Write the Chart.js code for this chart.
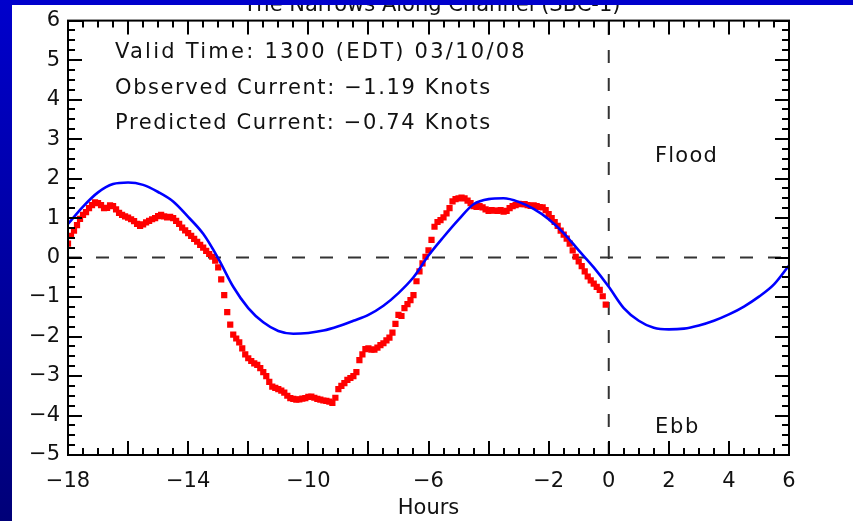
<!DOCTYPE html>
<html><head><meta charset="utf-8">
<script src="https://cdn.jsdelivr.net/npm/chart.js@4"></script>
<style>html,body{margin:0;padding:0;background:#fff;overflow:hidden}canvas{display:block}</style>
</head><body>
<canvas id="c" width="853" height="521"></canvas>
<script>
const titleText = "The Narrows Along Channel (SBC-1)";
const infoLines = ["Valid Time: 1300 (EDT) 03/10/08", "Observed Current: \u22121.19 Knots", "Predicted Current: \u22120.74 Knots"];
const regionLabels = ["Flood", "Ebb"];
const xAxisTitle = "Hours";
const xTickLabels = [-18, -14, -10, -6, -2, 0, 2, 4, 6];
const yTickLabels = [-5, -4, -3, -2, -1, 0, 1, 2, 3, 4, 5, 6];

const predHours = [-18,-17.5,-17,-16.5,-16,-15.5,-15,-14.5,-14,-13.5,-13,-12.5,-12,-11.5,-11,-10.5,-10,-9.5,-9,-8.5,-8,-7.5,-7,-6.5,-6,-5.5,-5,-4.5,-4,-3.5,-3,-2.5,-2,-1.5,-1,-0.5,0,0.5,1,1.5,2,2.5,3,3.5,4,4.5,5,5.5,6];
const predValues = [0.85,1.29,1.65,1.86,1.90,1.84,1.66,1.42,1.03,0.60,
  -0.02,-0.74,-1.28,-1.64,-1.86,-1.93,-1.91,-1.85,-1.74,-1.60,
  -1.45,-1.22,-0.90,-0.50,0.05,0.52,0.96,1.35,1.48,1.50,
  1.41,1.23,0.97,0.62,0.18,-0.25,-0.74,-1.28,-1.60,-1.78,
  -1.82,-1.80,-1.72,-1.60,-1.44,-1.24,-0.99,-0.68,-0.20];

const obsHours = [-18.0,-17.9,-17.8,-17.7,-17.6,-17.5,-17.4,-17.3,-17.2,-17.1,
  -17.0,-16.9,-16.8,-16.7,-16.6,-16.5,-16.4,-16.3,-16.2,-16.1,
  -16.0,-15.9,-15.8,-15.7,-15.6,-15.5,-15.4,-15.3,-15.2,-15.1,
  -15.0,-14.9,-14.8,-14.7,-14.6,-14.5,-14.4,-14.3,-14.2,-14.1,
  -14.0,-13.9,-13.8,-13.7,-13.6,-13.5,-13.4,-13.3,-13.2,-13.1,
  -13.0,-12.9,-12.8,-12.7,-12.6,-12.5,-12.4,-12.3,-12.2,-12.1,
  -12.0,-11.9,-11.8,-11.7,-11.6,-11.5,-11.4,-11.3,-11.2,-11.1,
  -11.0,-10.9,-10.8,-10.7,-10.6,-10.5,-10.4,-10.3,-10.2,-10.1,
  -10.0,-9.9,-9.8,-9.7,-9.6,-9.5,-9.4,-9.3,-9.2,-9.1,
  -9.0,-8.9,-8.8,-8.7,-8.6,-8.5,-8.4,-8.3,-8.2,-8.1,
  -8.0,-7.9,-7.8,-7.7,-7.6,-7.5,-7.4,-7.3,-7.2,-7.1,
  -7.0,-6.9,-6.8,-6.7,-6.6,-6.5,-6.4,-6.3,-6.2,-6.1,
  -6.0,-5.9,-5.8,-5.7,-5.6,-5.5,-5.4,-5.3,-5.2,-5.1,
  -5.0,-4.9,-4.8,-4.7,-4.6,-4.5,-4.4,-4.3,-4.2,-4.1,
  -4.0,-3.9,-3.8,-3.7,-3.6,-3.5,-3.4,-3.3,-3.2,-3.1,
  -3.0,-2.9,-2.8,-2.7,-2.6,-2.5,-2.4,-2.3,-2.2,-2.1,
  -2.0,-1.9,-1.8,-1.7,-1.6,-1.5,-1.4,-1.3,-1.2,-1.1,
  -1.0,-0.9,-0.8,-0.7,-0.6,-0.5,-0.4,-0.3,-0.2,-0.1];
const obsValues = [0.35,0.55,0.68,0.82,0.98,1.08,1.15,1.25,1.33,1.40,
  1.38,1.33,1.25,1.26,1.32,1.30,1.22,1.13,1.08,1.04,
  1.01,0.97,0.92,0.85,0.80,0.84,0.89,0.93,0.97,1.00,
  1.05,1.08,1.04,1.02,1.03,1.00,0.93,0.85,0.76,0.69,
  0.62,0.55,0.47,0.40,0.32,0.25,0.17,0.09,0.02,-0.08,
  -0.25,-0.55,-0.95,-1.38,-1.70,-1.95,-2.05,-2.15,-2.30,-2.45,
  -2.55,-2.62,-2.68,-2.72,-2.80,-2.90,-3.00,-3.15,-3.27,-3.30,
  -3.33,-3.37,-3.42,-3.50,-3.56,-3.58,-3.60,-3.59,-3.57,-3.56,
  -3.53,-3.52,-3.55,-3.58,-3.60,-3.62,-3.63,-3.65,-3.68,-3.55,
  -3.33,-3.25,-3.18,-3.10,-3.05,-3.00,-2.90,-2.60,-2.45,-2.32,
  -2.30,-2.33,-2.33,-2.28,-2.22,-2.17,-2.10,-2.03,-1.90,-1.68,
  -1.45,-1.48,-1.28,-1.18,-1.08,-0.95,-0.60,-0.35,-0.15,0.02,
  0.18,0.45,0.78,0.90,0.95,1.02,1.12,1.25,1.42,1.48,
  1.50,1.52,1.50,1.44,1.38,1.30,1.28,1.30,1.27,1.22,
  1.18,1.20,1.19,1.18,1.20,1.16,1.18,1.25,1.30,1.33,
  1.36,1.35,1.35,1.33,1.31,1.32,1.30,1.28,1.27,1.20,
  1.10,1.00,0.90,0.80,0.68,0.58,0.48,0.35,0.18,0.02,
  -0.10,-0.22,-0.35,-0.48,-0.58,-0.66,-0.74,-0.82,-0.98,-1.19];

const zeroLineHours = [-18, 6];
const zeroLineValues = [0, 0];
const nowLineHours = [0, 0];
const nowLineValues = [-5, 6];

const FONT = '"DejaVu Sans", sans-serif';
const fmt = v => (v < 0 ? '\u2212' + Math.abs(v) : String(v));
const pts = (xs, ys) => xs.map((x, i) => ({x: x, y: ys[i]}));

function spacedText(ctx, text, x, y, w) {
  ctx.letterSpacing = '0px';
  const m = ctx.measureText(text).width;
  const n = [...text].length;
  if ('letterSpacing' in ctx) {
    ctx.letterSpacing = ((w - m) / n).toFixed(2) + 'px';
    ctx.fillText(text, x, y);
    ctx.letterSpacing = '0px';
  } else {
    ctx.save(); ctx.translate(x, y); ctx.scale(w / m, 1); ctx.fillText(text, 0, 0); ctx.restore();
  }
}

const decor = {
  id: 'decor',
  beforeDraw(chart) {
    const ctx = chart.ctx;
    ctx.save();
    ctx.fillStyle = '#fff';
    ctx.fillRect(0, 0, chart.width, chart.height);
    ctx.font = '21px ' + FONT;
    ctx.fillStyle = '#111';
    ctx.textAlign = 'center';
    ctx.textBaseline = 'alphabetic';
    ctx.fillText(titleText, 432, 11);
    ctx.restore();
  },
  afterDraw(chart) {
    const ctx = chart.ctx;
    const {left, right, top, bottom} = chart.chartArea;
    const xs = chart.scales.x, ys = chart.scales.y;
    ctx.save();
    ctx.strokeStyle = '#000';
    ctx.lineWidth = 2;
    ctx.beginPath();
    for (let v = xs.min; v <= xs.max + 1e-9; v += 0.5) {
      const p = Math.round(xs.getPixelForValue(v));
      const L = Math.abs(v / 2 - Math.round(v / 2)) < 1e-6 ? 14 : 7;
      ctx.moveTo(p, bottom); ctx.lineTo(p, bottom - L);
      ctx.moveTo(p, top); ctx.lineTo(p, top + L);
    }
    for (let v = ys.min; v <= ys.max + 1e-9; v += 0.25) {
      const p = Math.round(ys.getPixelForValue(v));
      const L = Math.abs(v - Math.round(v)) < 1e-6 ? 14 : 7;
      ctx.moveTo(left, p); ctx.lineTo(left + L, p);
      ctx.moveTo(right, p); ctx.lineTo(right - L, p);
    }
    ctx.stroke();
    ctx.strokeRect(left, top, right - left, bottom - top);

    ctx.fillStyle = '#111';
    ctx.font = '21px ' + FONT;
    ctx.textAlign = 'left';
    ctx.textBaseline = 'middle';
    spacedText(ctx, infoLines[0], 115, 53, 412);
    spacedText(ctx, infoLines[1], 115, 89, 377);
    spacedText(ctx, infoLines[2], 115, 124, 377);
    spacedText(ctx, regionLabels[0], 655, 157, 63);
    spacedText(ctx, regionLabels[1], 655, 428, 45);

    // outer blue frame
    ctx.fillStyle = '#0000cc';
    ctx.fillRect(0, 0, chart.width, 5);
    const g = ctx.createLinearGradient(0, 0, 0, chart.height);
    g.addColorStop(0, '#0000cc');
    g.addColorStop(1, '#000078');
    ctx.fillStyle = g;
    ctx.fillRect(0, 0, 12, chart.height);
    ctx.restore();
  }
};

const tickFont = {family: FONT, size: 21};

new Chart(document.getElementById('c'), {
  type: 'scatter',
  data: {
    datasets: [
      {label: 'Predicted', data: pts(predHours, predValues), showLine: true, borderColor: '#0000ff', backgroundColor: '#0000ff', borderWidth: 2.6, pointRadius: 0, cubicInterpolationMode: 'monotone', order: 0},
      {label: 'Observed', data: pts(obsHours, obsValues), showLine: false, pointStyle: 'rect', pointRadius: 4.4, backgroundColor: '#ff0000', borderColor: '#ff0000', borderWidth: 0, order: 1},
      {label: 'zero', data: pts(zeroLineHours, zeroLineValues), showLine: true, borderColor: '#333', borderWidth: 2, borderDash: [13, 15], pointRadius: 0, order: 2},
      {label: 'now', data: pts(nowLineHours, nowLineValues), showLine: true, borderColor: '#333', borderWidth: 2, borderDash: [13, 15], pointRadius: 0, order: 2}
    ]
  },
  options: {
    responsive: false,
    devicePixelRatio: 1,
    animation: false,
    events: [],
    layout: {padding: {top: 19, right: 64, left: 0, bottom: 0}},
    plugins: {legend: {display: false}, tooltip: {enabled: false}},
    scales: {
      x: {
        type: 'linear', min: -18, max: 6,
        afterBuildTicks: s => { s.ticks = xTickLabels.map(v => ({value: v})); },
        afterFit: s => { s.height = 66; },
        ticks: {callback: v => fmt(v), font: tickFont, color: '#111', padding: 14, maxRotation: 0, autoSkip: false},
        grid: {display: false, drawTicks: false},
        border: {display: false},
        title: {display: true, text: xAxisTitle, font: tickFont, color: '#111', padding: {top: 0, bottom: 0}}
      },
      y: {
        type: 'linear', min: -5, max: 6,
        afterBuildTicks: s => { s.ticks = yTickLabels.map(v => ({value: v})); },
        afterFit: s => { s.width = 68; },
        ticks: {callback: v => fmt(v), font: tickFont, color: '#111', padding: 8, autoSkip: false},
        grid: {display: false, drawTicks: false},
        border: {display: false}
      }
    }
  },
  plugins: [decor]
});
</script>
</body></html>
